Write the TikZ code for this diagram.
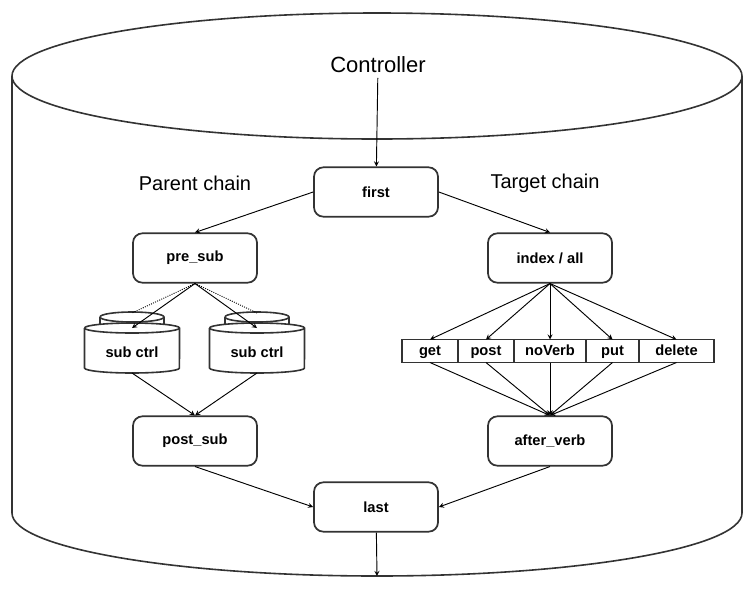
\documentclass[tikz,border=0pt]{standalone}
\usepackage{fontspec}
\setmainfont{Liberation Sans}
\usetikzlibrary{arrows, positioning}
\tikzstyle{stage} = [rectangle, rounded corners=7pt, minimum width=93pt, minimum height=37pt, draw=black!80, line width=1.3pt, fill=white, font=\bfseries\fontsize{11}{12}\selectfont]
\tikzstyle{verb} = [rectangle, minimum height=17.25pt, text height=8pt, text depth=2pt, inner sep=0pt, outer sep=0pt, draw=black!80, line width=1.3pt, font=\bfseries\fontsize{11}{12}\selectfont]
\tikzstyle{shell} = [draw=black!80, line width=1.2pt, fill=white]
\tikzstyle{arrow} = [line width=0.7pt, ->, >=stealth]

\begin{document}
\begin{tikzpicture}[x=0.75pt, y=-0.75pt]
\useasboundingbox (0,0) rectangle (754,594);

% outer controller cylinder
\draw[shell] (12,76) -- (12,513) arc[start angle=180, end angle=360, x radius=273.75pt, y radius=47.25pt] -- (742,76);
\draw[shell] (377,76) ellipse [x radius=273.75pt, y radius=47.25pt];
\node[font=\fontsize{16.5}{18}\selectfont] (ctrl) at (378,65) {Controller};
\coordinate (exit) at (377,576);

\node[font=\fontsize{15}{18}\selectfont] (parent) at (195,183) {Parent chain};
\node[font=\fontsize{15}{18}\selectfont] (target) at (545,183) {Target chain};

\node[stage] (first) at (376,192) {first};
\node[stage] (presub) at (195,258) {pre\_sub};
\node[stage] (index) at (550,258) {index / all};
\node[stage] (postsub) at (195,441) {post\_sub};
\node[stage] (after) at (550,441) {after\_verb};
\node[stage] (last) at (376,507) {last};

% sub controllers
\foreach \cx/\n in {132/sca, 257/scb} {
  \draw[shell] (\cx-32,317) -- (\cx-32,332) -- (\cx+32,332) -- (\cx+32,317)
    arc[start angle=0, end angle=180, x radius=24pt, y radius=3.75pt];
  \draw[shell] (\cx-32,317) arc[start angle=180, end angle=360, x radius=24pt, y radius=3.75pt];
  \draw[shell] (\cx-47.5,328) -- (\cx-47.5,368)
    arc[start angle=180, end angle=360, x radius=35.6pt, y radius=3.75pt] -- (\cx+47.5,328)
    arc[start angle=0, end angle=180, x radius=35.6pt, y radius=3.75pt];
  \draw[shell] (\cx-47.5,328) arc[start angle=180, end angle=360, x radius=35.6pt, y radius=3.75pt];
  \node[font=\bfseries\fontsize{11}{12}\selectfont] (\n) at (\cx,352) {sub ctrl};
  \coordinate (\n back) at (\cx,313);
  \coordinate (\n top) at (\cx,328);
  \coordinate (\n bot) at (\cx,373);
}

% verbs
\node[verb, minimum width=42pt] (get) at (430,351) {get};
\node[verb, minimum width=42pt, right=0pt of get] (post) {post};
\node[verb, minimum width=54pt, right=0pt of post] (noverb) {noVerb};
\node[verb, minimum width=39.75pt, right=0pt of noverb] (put) {put};
\node[verb, minimum width=56.25pt, right=0pt of put] (delete) {delete};

\draw[arrow] (ctrl) -- (first);
\draw[arrow] (first.west) -- (presub.north);
\draw[arrow] (first.east) -- (index.north);
\foreach \n in {sca, scb} {
  \draw[densely dotted, line width=0.7pt] (presub.south) -- (\n back);
  \draw[arrow] (presub.south) -- (\n top);
  \draw[arrow] (\n bot) -- (postsub.north);
}
\foreach \v in {get, post, noverb, put, delete} {
  \draw[arrow] (index.south) -- (\v.north);
  \draw[arrow] (\v.south) -- (after.north);
}
\draw[arrow] (postsub.south) -- (last.west);
\draw[arrow] (after.south) -- (last.east);
\draw[arrow] (last) -- (exit);
\end{tikzpicture}
\end{document}
